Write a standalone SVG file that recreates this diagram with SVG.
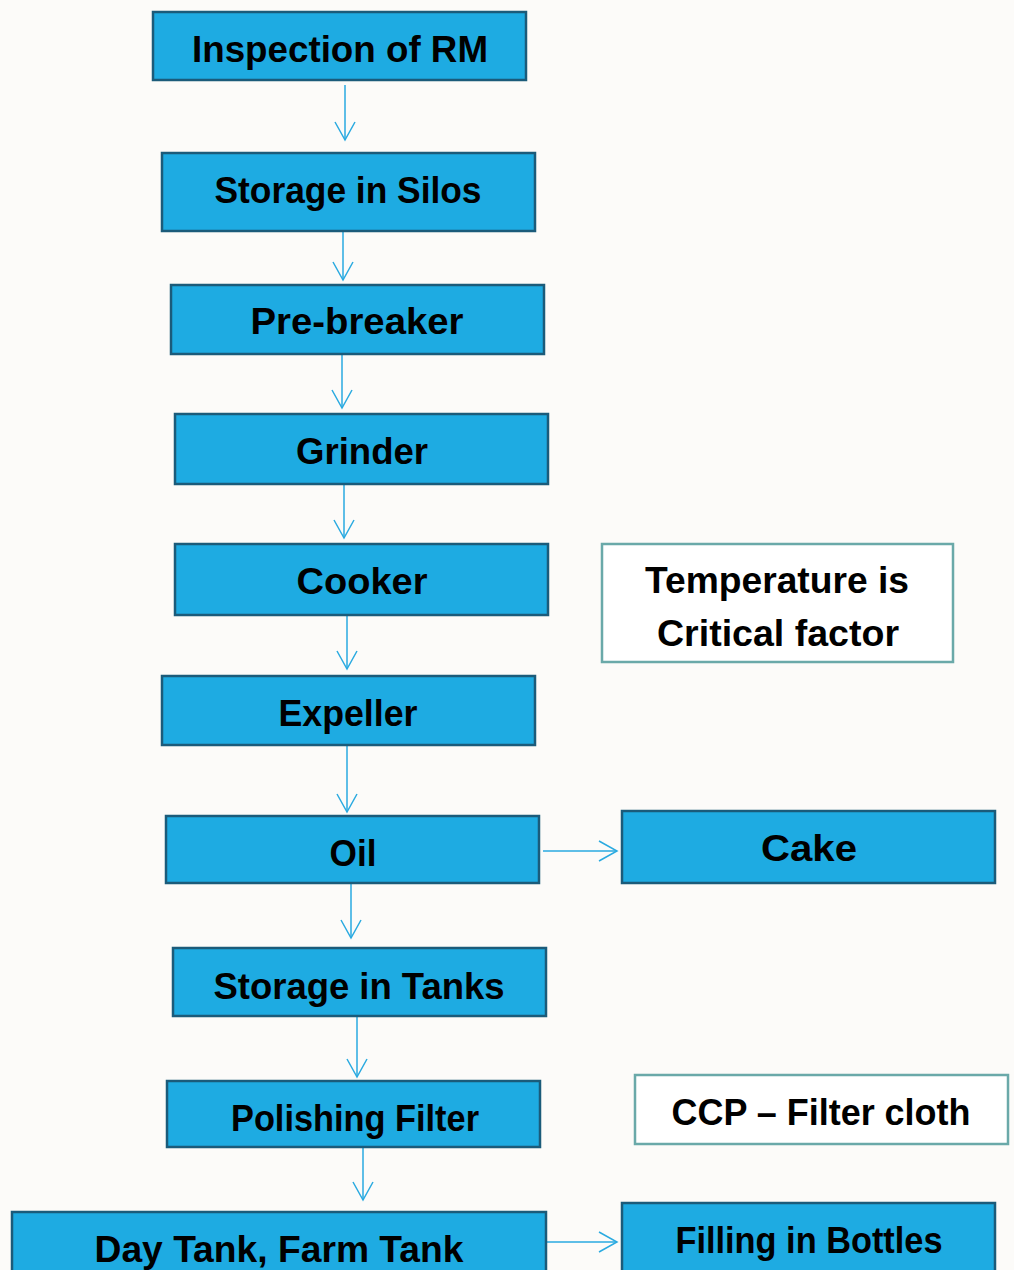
<svg xmlns="http://www.w3.org/2000/svg" width="1014" height="1270" viewBox="0 0 1014 1270">
<defs>
<style>
.box{fill:#1EABE2;stroke:#1B5B7A;stroke-width:2.5}
.note{fill:#FFFFFF;stroke:#6AA9A9;stroke-width:2.5}
.t{font-family:"Liberation Sans",Arial,sans-serif;font-weight:bold;font-size:37px;fill:#000;text-anchor:middle}
.c{stroke:#2AAAE0;stroke-width:1.5;fill:none}
</style>
<marker id="ah" markerWidth="22" markerHeight="24" refX="19" refY="11" orient="auto" markerUnits="userSpaceOnUse">
<path d="M1,1 L19,11 L1,21" fill="none" stroke="#2AAAE0" stroke-width="1.5"/>
</marker>
</defs>
<rect width="1014" height="1270" fill="#FCFBF9"/>
<g id="connectors">
<line class="c" x1="345" y1="85" x2="345" y2="140" marker-end="url(#ah)"/>
<line class="c" x1="343" y1="231" x2="343" y2="280" marker-end="url(#ah)"/>
<line class="c" x1="342" y1="354" x2="342" y2="408" marker-end="url(#ah)"/>
<line class="c" x1="344" y1="484" x2="344" y2="538" marker-end="url(#ah)"/>
<line class="c" x1="347" y1="615" x2="347" y2="669" marker-end="url(#ah)"/>
<line class="c" x1="347" y1="745" x2="347" y2="812" marker-end="url(#ah)"/>
<line class="c" x1="351" y1="883" x2="351" y2="938" marker-end="url(#ah)"/>
<line class="c" x1="357" y1="1016" x2="357" y2="1077" marker-end="url(#ah)"/>
<line class="c" x1="363" y1="1147" x2="363" y2="1200" marker-end="url(#ah)"/>
<line class="c" x1="543" y1="851" x2="617" y2="851" marker-end="url(#ah)"/>
<line class="c" x1="547" y1="1242" x2="617" y2="1242" marker-end="url(#ah)"/>
</g>
<g id="n1"><rect class="box" x="153" y="12" width="373" height="68"/><text class="t" x="340" y="62" textLength="296" lengthAdjust="spacingAndGlyphs">Inspection of RM</text></g>
<g id="n2"><rect class="box" x="162" y="153" width="373" height="78"/><text class="t" x="348" y="203" textLength="267" lengthAdjust="spacingAndGlyphs">Storage in Silos</text></g>
<g id="n3"><rect class="box" x="171" y="285" width="373" height="69"/><text class="t" x="357" y="334" textLength="213" lengthAdjust="spacingAndGlyphs">Pre-breaker</text></g>
<g id="n4"><rect class="box" x="175" y="414" width="373" height="70"/><text class="t" x="362" y="464" textLength="132" lengthAdjust="spacingAndGlyphs">Grinder</text></g>
<g id="n5"><rect class="box" x="175" y="544" width="373" height="71"/><text class="t" x="362" y="594" textLength="131" lengthAdjust="spacingAndGlyphs">Cooker</text></g>
<g id="n6"><rect class="box" x="162" y="676" width="373" height="69"/><text class="t" x="348" y="726" textLength="139" lengthAdjust="spacingAndGlyphs">Expeller</text></g>
<g id="n7"><rect class="box" x="166" y="816" width="373" height="67"/><text class="t" x="353" y="866" textLength="47" lengthAdjust="spacingAndGlyphs">Oil</text></g>
<g id="n8"><rect class="box" x="622" y="811" width="373" height="72"/><text class="t" x="809" y="861" textLength="96" lengthAdjust="spacingAndGlyphs">Cake</text></g>
<g id="n9"><rect class="box" x="173" y="948" width="373" height="68"/><text class="t" x="359" y="999" textLength="291" lengthAdjust="spacingAndGlyphs">Storage in Tanks</text></g>
<g id="n10"><rect class="box" x="167" y="1081" width="373" height="66"/><text class="t" x="355" y="1131" textLength="248" lengthAdjust="spacingAndGlyphs">Polishing Filter</text></g>
<g id="n11"><rect class="box" x="12" y="1212" width="534" height="80"/><text class="t" x="279" y="1262" textLength="369" lengthAdjust="spacingAndGlyphs">Day Tank, Farm Tank</text></g>
<g id="n12"><rect class="box" x="622" y="1203" width="373" height="90"/><text class="t" x="809" y="1253" textLength="267" lengthAdjust="spacingAndGlyphs">Filling in Bottles</text></g>
<g id="note1"><rect class="note" x="602" y="544" width="351" height="118"/><text class="t" x="777" y="593" textLength="264" lengthAdjust="spacingAndGlyphs">Temperature is</text><text class="t" x="778" y="646" textLength="242" lengthAdjust="spacingAndGlyphs">Critical factor</text></g>
<g id="note2"><rect class="note" x="635" y="1075" width="373" height="69"/><text class="t" x="821" y="1125" textLength="299" lengthAdjust="spacingAndGlyphs">CCP – Filter cloth</text></g>
</svg>
